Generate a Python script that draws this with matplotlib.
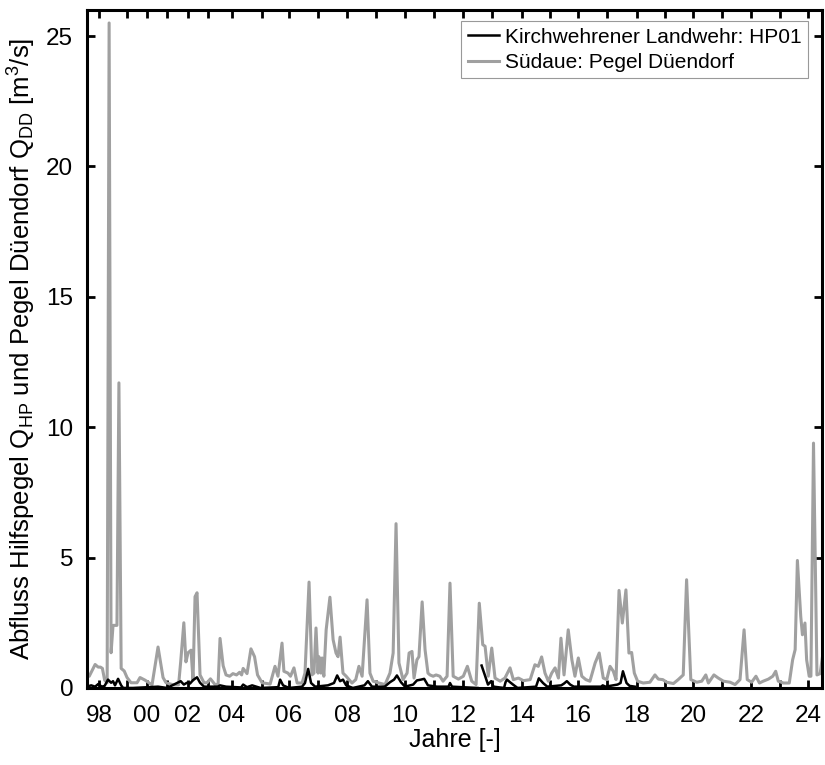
#!/usr/bin/env python3
"""
Abfluss Hilfspegel HP01 und Pegel Dueendorf, 1998-2024
"""

import numpy as np
import matplotlib
matplotlib.use('Agg')
import matplotlib.pyplot as plt

plt.rcParams['font.family'] = ['Liberation Sans', 'DejaVu Sans']
plt.rcParams['mathtext.fontset'] = 'custom'
plt.rcParams['mathtext.rm'] = 'Liberation Sans'
plt.rcParams['mathtext.it'] = 'Liberation Sans:italic'

# Suedaue: Pegel Dueendorf (decimal year, m3/s)
dd_t = [1997.57, 1997.65, 1997.86, 1997.97, 1998.05, 1998.12, 1998.2, 1998.29,
        1998.36, 1998.43, 1998.5, 1998.64, 1998.71, 1998.79, 1998.9, 1999.0,
        1999.2, 1999.5, 1999.65, 1999.9, 2000.25, 2000.55, 2000.8, 2000.95,
        2001.3, 2001.55, 2001.65, 2001.8, 2001.9, 2002.0, 2002.15, 2002.25,
        2002.35, 2002.45, 2002.6, 2002.8, 2002.95, 2003.1, 2003.3, 2003.42,
        2003.5, 2003.63, 2003.75, 2003.9, 2004.03, 2004.15, 2004.25, 2004.32,
        2004.37, 2004.5, 2004.63, 2004.75, 2004.85, 2005.0, 2005.3,
        2005.48, 2005.59, 2005.74, 2005.81, 2005.96, 2006.05, 2006.17, 2006.28,
        2006.45, 2006.55, 2006.69, 2006.79, 2006.86, 2006.93, 2007.0, 2007.03,
        2007.1, 2007.14, 2007.2, 2007.28, 2007.41, 2007.52, 2007.62, 2007.69,
        2007.76, 2007.86, 2007.97, 2008.17, 2008.3, 2008.41, 2008.52, 2008.69,
        2008.79, 2008.9, 2009.1, 2009.31, 2009.48, 2009.59, 2009.69, 2009.79,
        2009.93, 2010.07, 2010.14, 2010.24, 2010.31, 2010.41, 2010.48, 2010.59,
        2010.69, 2010.79, 2010.86, 2010.97, 2011.07, 2011.2, 2011.31, 2011.45,
        2011.55, 2011.66,
        2011.84, 2012.01, 2012.15, 2012.3, 2012.45, 2012.56, 2012.68, 2012.76,
        2012.87, 2012.99, 2013.1, 2013.27, 2013.43, 2013.6, 2013.71, 2013.88,
        2014.05, 2014.29, 2014.46, 2014.58, 2014.7, 2014.82, 2014.94, 2015.06,
        2015.18, 2015.3, 2015.39, 2015.5, 2015.65, 2015.78, 2015.89, 2016.01,
        2016.13, 2016.27, 2016.41, 2016.59, 2016.73, 2016.87, 2016.99, 2017.1,
        2017.21, 2017.3, 2017.4, 2017.51, 2017.63, 2017.73, 2017.82, 2017.91,
        2018.02, 2018.22, 2018.46, 2018.64, 2018.76, 2018.92, 2019.06, 2019.3,
        2019.47, 2019.65, 2019.77, 2019.92, 2020.13, 2020.3, 2020.44, 2020.53,
        2020.72, 2020.87, 2021.05, 2021.28, 2021.45, 2021.62, 2021.76, 2021.87,
        2022.02, 2022.17, 2022.29, 2022.42, 2022.6, 2022.75, 2022.85, 2022.94,
        2023.12, 2023.33, 2023.45, 2023.54, 2023.62, 2023.74, 2023.8, 2023.89,
        2023.95, 2024.04, 2024.1, 2024.19, 2024.31, 2024.42, 2024.52]
dd_q = [0.45, 0.45, 0.9, 0.8, 0.8, 0.75, 0.3, 0.2,
        25.5, 1.35, 2.4, 2.4, 11.7, 0.75, 0.65, 0.4,
        0.2, 0.2, 0.4, 0.3, 0.12, 1.57, 0.4, 0.2,
        0.12, 0.12, 1.0, 2.5, 1.0, 1.35, 1.45, 0.3,
        3.5, 3.65, 0.5, 0.2, 0.2, 0.35, 0.12, 0.15,
        1.9, 0.85, 0.5, 0.45, 0.55, 0.5, 0.6, 0.5,
        0.75, 0.55, 1.5, 1.2, 0.5, 0.2, 0.15,
        0.83, 0.45, 1.72, 0.64, 0.57, 0.45, 0.77, 0.19,
        0.19, 0.57, 4.06, 0.5, 0.57, 2.3, 0.57, 1.2,
        0.57, 1.15, 0.45, 2.23, 3.48, 1.85, 1.34, 1.2,
        1.95, 0.57, 0.45, 0.19, 0.32, 0.83, 0.45, 3.38,
        0.57, 0.26, 0.19, 0.13, 0.57, 1.34, 6.3, 0.96,
        0.32, 0.57, 1.34, 1.4, 0.38, 1.08, 1.2, 3.3,
        1.47, 0.57, 0.5, 0.45, 0.5, 0.45, 0.26, 0.45,
        4.02, 0.45,
        0.34, 0.45, 0.83, 0.26, 0.13, 3.25, 1.66, 1.6,
        0.45, 1.53, 0.38, 0.26, 0.38, 0.77, 0.32, 0.38,
        0.28, 0.32, 0.89, 0.83, 1.19, 0.57, 0.26, 0.57,
        0.77, 0.38, 1.91, 0.5, 2.23, 1.08, 0.45, 1.15,
        0.45, 0.32, 0.26, 0.96, 1.34, 0.38, 0.32, 0.83,
        0.64, 0.32, 3.74, 2.49, 3.76, 1.34, 1.36, 0.57,
        0.26, 0.19, 0.22, 0.5, 0.34, 0.32, 0.22, 0.17,
        0.32, 0.5, 4.15, 0.32, 0.22, 0.26, 0.5, 0.19,
        0.5, 0.38, 0.26, 0.22, 0.13, 0.32, 2.23, 0.32,
        0.22, 0.45, 0.19, 0.26, 0.34, 0.45, 0.64, 0.26,
        0.19, 0.19, 1.08, 1.47, 4.89, 2.74, 2.04, 2.49,
        1.08, 0.45, 0.45, 9.39, 0.5, 0.55, 1.34]

# Kirchwehrener Landwehr: HP01 (gap in 2012)
hp_t = [1997.57, 1997.72, 1997.86, 1997.97, 1998.1, 1998.2, 1998.32, 1998.43,
        1998.5, 1998.57, 1998.68, 1998.79, 1998.86, 1999.3, 1999.8, 2000.55,
        2001.0, 2001.65, 2001.8, 2001.95, 2002.1, 2002.25, 2002.45, 2002.6,
        2002.8, 2003.4, 2003.5, 2003.75, 2004.3, 2004.37, 2004.5, 2004.67,
        2004.95, 2005.6, 2005.67, 2005.78, 2006.0, 2006.45, 2006.55, 2006.66,
        2006.76, 2006.9, 2007.34, 2007.55, 2007.66, 2007.76, 2007.86, 2007.97,
        2008.2, 2008.6, 2008.72, 2008.86, 2009.3, 2009.48, 2009.62, 2009.72,
        2009.86, 2010.0, 2010.28, 2010.41, 2010.55, 2010.66, 2010.79, 2011.1,
        2011.5, 2011.55, 2011.62, 2012.5, 2012.57,
        2012.64, 2012.75, 2012.86, 2012.97, 2013.05, 2013.4, 2013.45, 2013.5,
        2013.6, 2013.7, 2013.85, 2014.5, 2014.6, 2014.75, 2014.9, 2015.4,
        2015.5, 2015.6, 2015.72, 2015.85, 2016.8, 2016.85, 2016.95, 2017.35,
        2017.45, 2017.53, 2017.65, 2017.75, 2017.93]
hp_q = [0.05, 0.1, 0.05, 0.15, 0.05, 0.08, 0.32, 0.2,
        0.26, 0.1, 0.35, 0.1, 0.0, 0.0, 0.02, 0.05,
        0.0, 0.26, 0.13, 0.2, 0.17, 0.3, 0.41, 0.2,
        0.05, 0.05, 0.1, 0.05, 0.02, 0.13, 0.03, 0.1,
        0.0, 0.03, 0.32, 0.1, 0.0, 0.05, 0.19, 0.73,
        0.19, 0.05, 0.1, 0.19, 0.48, 0.26, 0.32, 0.1,
        0.0, 0.1, 0.26, 0.05, 0.05, 0.22, 0.32, 0.48,
        0.22, 0.05, 0.13, 0.29, 0.32, 0.35, 0.1, 0.05,
        0.05, 0.19, 0.05, 0.0, np.nan,
        0.86, 0.5, 0.13, 0.26, 0.05, 0.0, 0.22, 0.32,
        0.22, 0.13, 0.0, 0.05, 0.37, 0.19, 0.05, 0.1,
        0.17, 0.26, 0.13, 0.05, 0.05, 0.1, 0.05, 0.13,
        0.19, 0.64, 0.19, 0.08, 0.05]

# axis is not linear in time: tick position of each year (axis units)
tick_years = np.arange(1998, 2025)
tick_pos = [99, 127, 147, 167, 188, 208, 232, 262, 289, 318, 347, 376, 405, 434,
            463, 492, 522, 550, 578, 607, 637, 665, 693, 722, 751, 780, 808]
tick_labels = ['%02d' % (y % 100) if y % 2 == 0 else '' for y in tick_years]

yr_map = np.concatenate(([1996.0], tick_years, [2026.0]))
pos_map = np.concatenate(([99 - 2 * 28.0], tick_pos, [808 + 2 * 28.8]))


def forward(x):
    return np.interp(x, yr_map, pos_map)


def inverse(p):
    return np.interp(p, pos_map, yr_map)


fig = plt.figure(figsize=(8.25, 7.65), dpi=100)
ax = fig.add_axes([0.1055, 0.1007, 0.8909, 0.8863])
ax.set_xscale('function', functions=(forward, inverse))

l_dd, = ax.plot(dd_t, dd_q, color='#a0a0a0', linewidth=2.2)
l_hp, = ax.plot(hp_t, hp_q, color='black', linewidth=1.8)

ax.set_xlim(inverse(87), inverse(822))
ax.set_ylim(0, 26)
ax.set_xticks(tick_years)
ax.set_xticklabels(tick_labels)
ax.set_yticks([0, 5, 10, 15, 20, 25])
ax.minorticks_off()

ax.tick_params(direction='in', top=True, right=True, length=6, width=2,
               labelsize=17.5)
ax.tick_params(axis='x', pad=12)
ax.tick_params(axis='y', pad=10)
for s in ax.spines.values():
    s.set_linewidth(2.2)

ax.set_xlabel('Jahre [-]', fontsize=18, labelpad=1)
ax.set_ylabel(r'Abfluss Hilfspegel Q$_{\mathrm{HP}}$ und Pegel Düendorf '
              r'Q$_{\mathrm{DD}}$ [m$^{3}$/s]', fontsize=18.5, labelpad=6)

leg = ax.legend([l_hp, l_dd],
                ['Kirchwehrener Landwehr: HP01', 'Südaue: Pegel Düendorf'],
                loc='upper right', fontsize=15, fancybox=False,
                handlelength=1.5, handletextpad=0.3, borderpad=0.3,
                labelspacing=0.3, borderaxespad=0,
                bbox_to_anchor=(0.981, 0.983))
leg.get_frame().set_edgecolor('#808080')
leg.get_frame().set_linewidth(0.8)

plt.savefig('out.png', dpi=100)
